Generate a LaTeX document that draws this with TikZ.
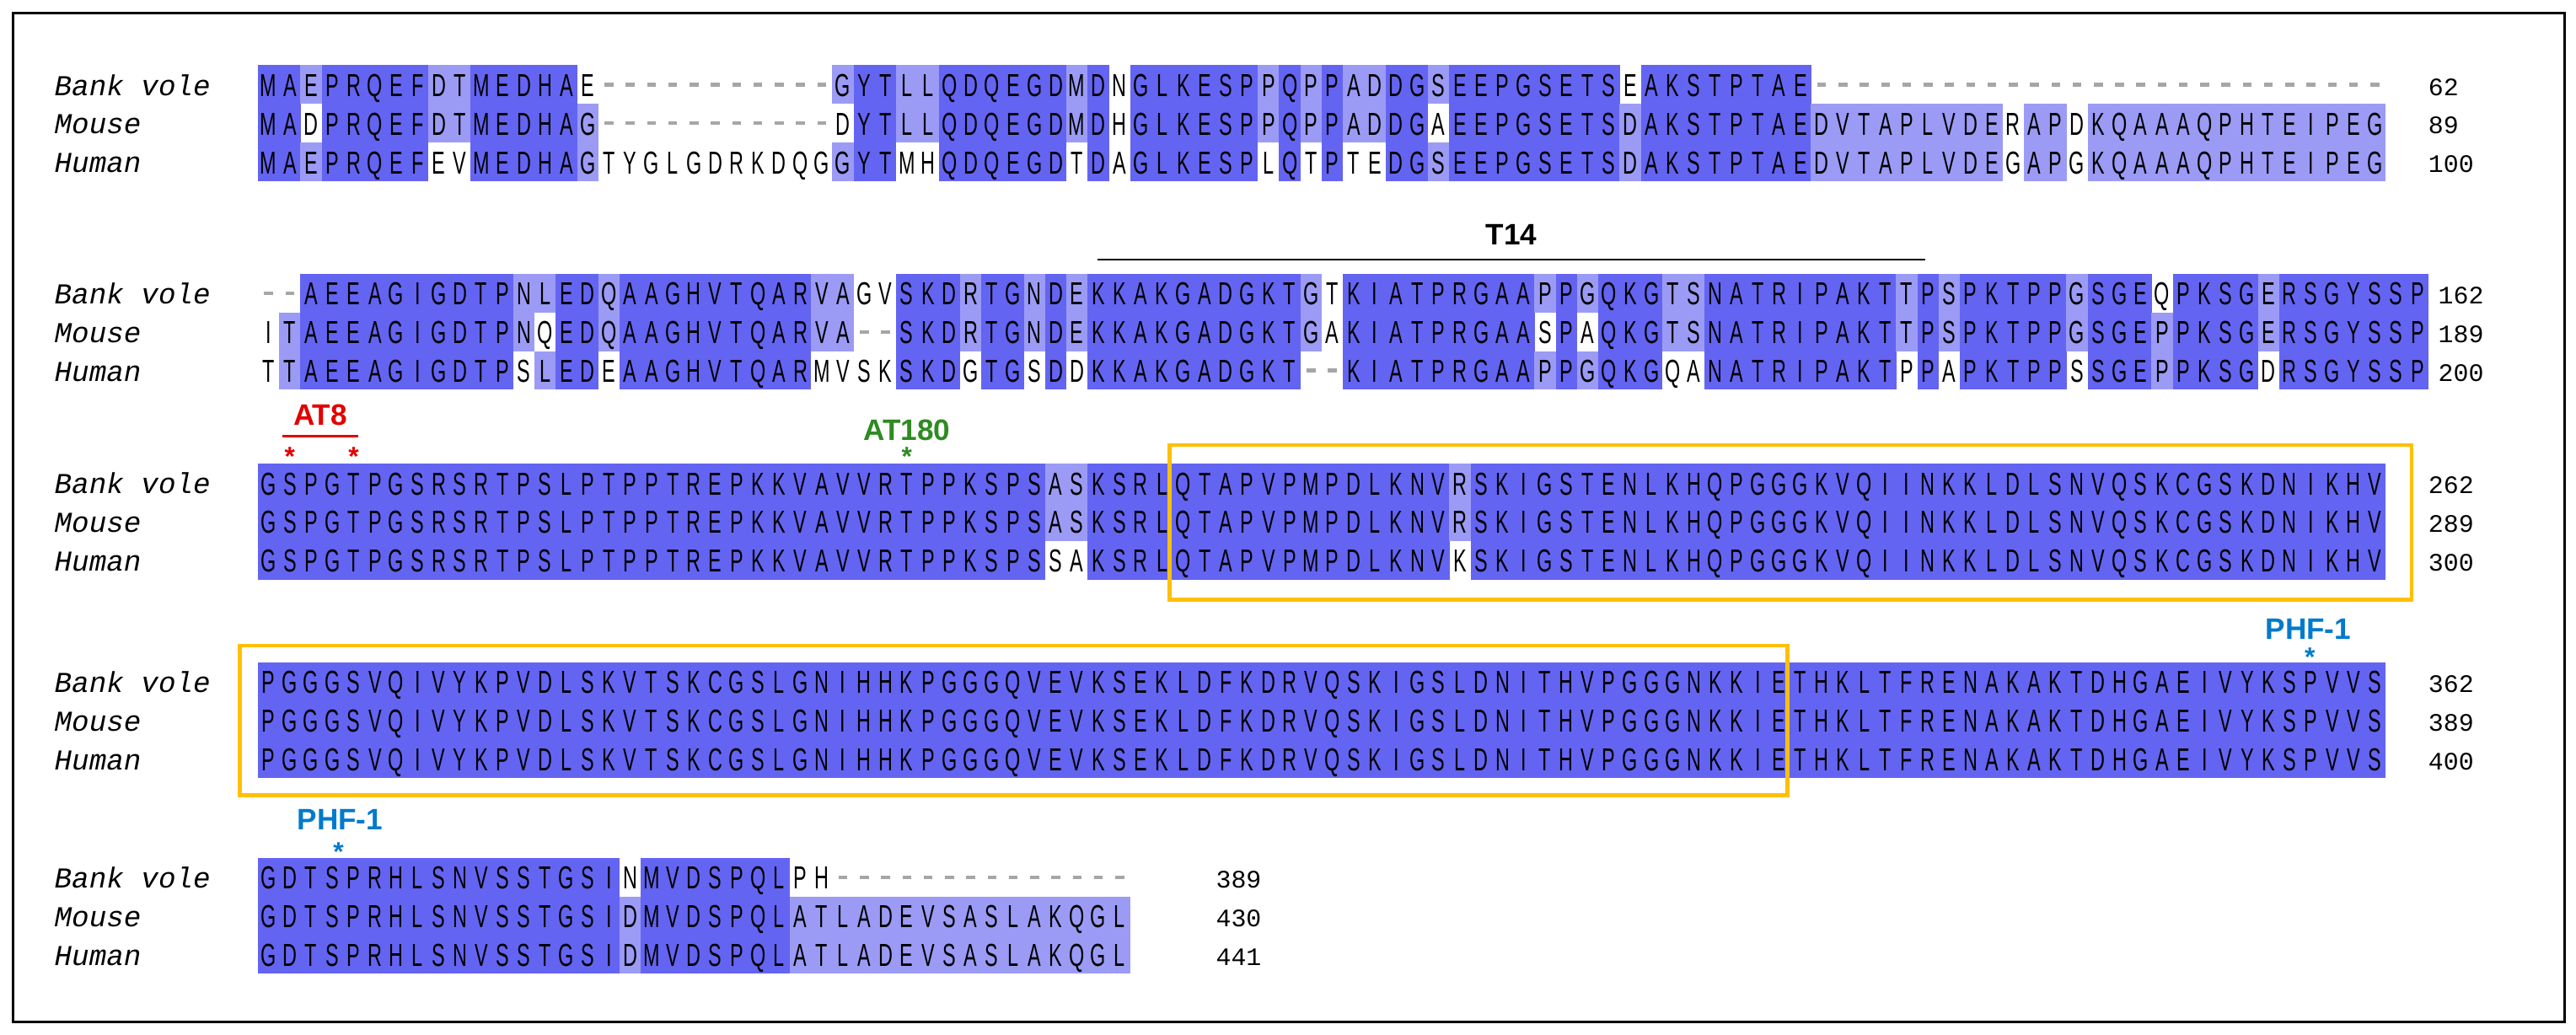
\documentclass[tikz,border=0pt]{standalone}
\usepackage{fontspec}
\newfontfamily\seqfont[FakeStretch=0.62]{Liberation Sans}
\newfontfamily\labfont{Liberation Mono}
\newfontfamily\annfont{Liberation Sans}
\definecolor{darkc}{RGB}{100,100,242}
\definecolor{lightc}{RGB}{155,155,246}
\definecolor{boxc}{RGB}{255,192,0}
\definecolor{at8c}{RGB}{226,0,0}
\definecolor{at180c}{RGB}{46,139,34}
\definecolor{phfc}{RGB}{0,122,204}
\tikzset{
  seq/.style={font=\seqfont\fontsize{21.5}{21.5}\selectfont, inner sep=0pt, anchor=base},
  lab/.style={font=\labfont\itshape\fontsize{19.5}{19.5}\selectfont, inner sep=0pt, anchor=base west},
  num/.style={font=\labfont\fontsize{17}{17}\selectfont, inner sep=0pt, anchor=base west},
  ann/.style={font=\annfont\bfseries\fontsize{20}{20}\selectfont, inner sep=0pt, anchor=base},
  star/.style={font=\annfont\bfseries\fontsize{18}{18}\selectfont, inner sep=0pt},
  regbox/.style={draw=boxc, line width=2.6pt},
}
\newcommand\DrawCell[4]{%
  \pgfmathsetmacro\cx{157+(#1-1)*12.95}%
  \ifcase#3\or
    \fill[lightc] (\cx,#2-11.75) rectangle ++(13.05,23.5);\or
    \fill[darkc] (\cx,#2-11.75) rectangle ++(13.05,23.5);\fi
  \node[seq] at (\cx+6.475,#2+7.2) {#4};}
\newcommand\DrawGap[2]{%
  \pgfmathsetmacro\cx{157+(#1-1)*12.95}%
  \fill[gray!70] (\cx+3.8,#2-1.1) rectangle ++(5.4,2.2);}
\ExplSyntaxOn
\str_new:N \l_sa_str
\str_new:N \l_sb_str
\str_new:N \l_sc_str
\tl_new:N \l_ca_tl
\tl_new:N \l_cb_tl
\tl_new:N \l_cc_tl
\int_new:N \l_shd_int
\cs_new_protected:Npn \aln_one:nnnnn #1#2#3#4#5
  {
    \tl_if_empty:nF {#3}
      {
        \str_if_eq:nnTF {#3} {-}
          { \DrawGap{#1}{#2} }
          {
            \int_set:Nn \l_shd_int {0}
            \str_if_eq:nnT {#3} {#4} { \int_incr:N \l_shd_int }
            \str_if_eq:nnT {#3} {#5} { \int_incr:N \l_shd_int }
            \DrawCell{#1}{#2}{\int_use:N \l_shd_int}{#3}
          }
      }
  }
\cs_generate_variant:Nn \aln_one:nnnnn {nnVVV}
\NewDocumentCommand \AlnRow {mmmmm}
  {
    \str_set:Nn \l_sa_str {#2}
    \str_set:Nn \l_sb_str {#3}
    \str_set:Nn \l_sc_str {#4}
    \int_step_inline:nn {#5}
      {
        \tl_set:Ne \l_ca_tl {\str_item:Nn \l_sa_str {##1}}
        \tl_set:Ne \l_cb_tl {\str_item:Nn \l_sb_str {##1}}
        \tl_set:Ne \l_cc_tl {\str_item:Nn \l_sc_str {##1}}
        \aln_one:nnVVV {##1} {#1} \l_ca_tl \l_cb_tl \l_cc_tl
      }
  }
\ExplSyntaxOff
% #1 y, #2..#4 sequences
\newcommand\AlnBlock[4]{%
  \AlnRow{#1}{#2}{#3}{#4}{110}%
  \AlnRow{#1+23.5}{#3}{#2}{#4}{110}%
  \AlnRow{#1+47}{#4}{#2}{#3}{110}%
  \node[lab] (l#1a) at (33,#1+6.5) {Bank vole};
  \node[lab] (l#1b) at (33,#1+30) {Mouse};
  \node[lab] (l#1c) at (33,#1+53.5) {Human};}
\begin{document}
\begin{tikzpicture}[x=0.03898cm, y=-0.03898cm]
\useasboundingbox (0,0) rectangle (1568,629.6);
\draw[line width=1.6pt] (8,8) rectangle (1561,622);
\AlnBlock{51.5}{MAEPRQEFDTMEDHAE-----------GYTLLQDQEGDMDNGLKESPPQPPADDGSEEPGSETSEAKSTPTAE---------------------------}{MADPRQEFDTMEDHAG-----------DYTLLQDQEGDMDHGLKESPPQPPADDGAEEPGSETSDAKSTPTAEDVTAPLVDERAPDKQAAAQPHTEIPEG}{MAEPRQEFEVMEDHAGTYGLGDRKDQGGYTMHQDQEGDTDAGLKESPLQTPTEDGSEEPGSETSDAKSTPTAEDVTAPLVDEGAPGKQAAAQPHTEIPEG}
\AlnBlock{178.5}{--AEEAGIGDTPNLEDQAAGHVTQARVAGVSKDRTGNDEKKAKGADGKTGTKIATPRGAAPPGQKGTSNATRIPAKTTPSPKTPPGSGEQPKSGERSGYSSP}{ITAEEAGIGDTPNQEDQAAGHVTQARVA--SKDRTGNDEKKAKGADGKTGAKIATPRGAASPAQKGTSNATRIPAKTTPSPKTPPGSGEPPKSGERSGYSSP}{TTAEEAGIGDTPSLEDEAAGHVTQARMVSKSKDGTGSDDKKAKGADGKT--KIATPRGAAPPGQKGQANATRIPAKTPPAPKTPPSSGEPPKSGDRSGYSSP}
\AlnBlock{294}{GSPGTPGSRSRTPSLPTPPTREPKKVAVVRTPPKSPSASKSRLQTAPVPMPDLKNVRSKIGSTENLKHQPGGGKVQIINKKLDLSNVQSKCGSKDNIKHV}{GSPGTPGSRSRTPSLPTPPTREPKKVAVVRTPPKSPSASKSRLQTAPVPMPDLKNVRSKIGSTENLKHQPGGGKVQIINKKLDLSNVQSKCGSKDNIKHV}{GSPGTPGSRSRTPSLPTPPTREPKKVAVVRTPPKSPSSAKSRLQTAPVPMPDLKNVKSKIGSTENLKHQPGGGKVQIINKKLDLSNVQSKCGSKDNIKHV}
\AlnBlock{415}{PGGGSVQIVYKPVDLSKVTSKCGSLGNIHHKPGGGQVEVKSEKLDFKDRVQSKIGSLDNITHVPGGGNKKIETHKLTFRENAKAKTDHGAEIVYKSPVVS}{PGGGSVQIVYKPVDLSKVTSKCGSLGNIHHKPGGGQVEVKSEKLDFKDRVQSKIGSLDNITHVPGGGNKKIETHKLTFRENAKAKTDHGAEIVYKSPVVS}{PGGGSVQIVYKPVDLSKVTSKCGSLGNIHHKPGGGQVEVKSEKLDFKDRVQSKIGSLDNITHVPGGGNKKIETHKLTFRENAKAKTDHGAEIVYKSPVVS}
\AlnBlock{534}{GDTSPRHLSNVSSTGSINMVDSPQLPH--------------}{GDTSPRHLSNVSSTGSIDMVDSPQLATLADEVSASLAKQGL}{GDTSPRHLSNVSSTGSIDMVDSPQLATLADEVSASLAKQGL}
% numbers
\foreach \yy/\a/\b/\c/\xx in {51.5/62/89/100/1478, 178.5/162/189/200/1484, 294/262/289/300/1478, 415/362/389/400/1478, 534/389/430/441/740}{
  \node[num] (n\a) at (\xx,\yy+6.5) {\a};
  \node[num] (n\b) at (\xx,\yy+30) {\b};
  \node[num] (n\c) at (\xx,\yy+53.5) {\c};
}
% annotations
\node[ann] (t14) at (920,149) {T14};
\coordinate (t14a) at (668,158);
\coordinate (t14b) at (1172,158);
\draw[line width=1.2pt] (t14a) -- (t14b);
\node[ann, text=at8c] (at8) at (195,259) {AT8};
\coordinate (at8a) at (172,265.5);
\coordinate (at8b) at (218,265.5);
\draw[at8c, line width=1.6pt] (at8a) -- (at8b);
\node[star, text=at8c] (s1) at (176.4,278) {*};
\node[star, text=at8c] (s2) at (215.3,278) {*};
\node[ann, text=at180c] (at180) at (552,268) {AT180};
\node[star, text=at180c] (s3) at (552,278) {*};
\node[ann, text=phfc] (phf1) at (1405,389) {PHF-1};
\node[star, text=phfc] (s4) at (1406,400) {*};
\node[ann, text=phfc] (phf2) at (207,505) {PHF-1};
\node[star, text=phfc] (s5) at (206,518.5) {*};
% boxes
\draw[regbox] (712,271) rectangle (1468,365);
\draw[regbox] (146,393) rectangle (1088,484);
\end{tikzpicture}
\end{document}
